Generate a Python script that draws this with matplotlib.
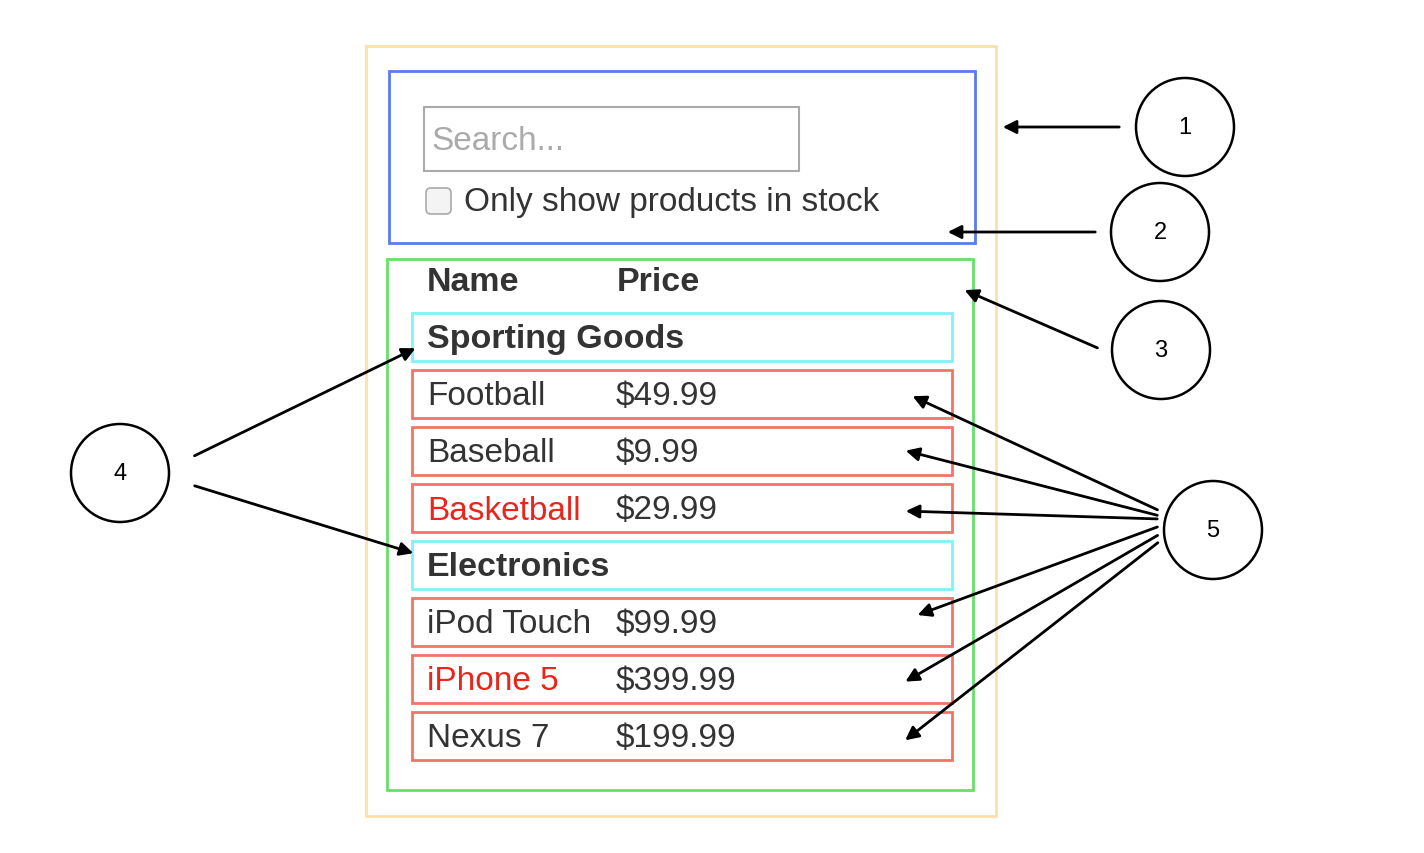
import matplotlib.pyplot as plt
from matplotlib.patches import Rectangle, Circle, FancyBboxPatch

plt.rcParams['font.family'] = ['Liberation Sans', 'DejaVu Sans']

# Table content
categories = ["Sporting Goods", "Electronics"]
names = [["Football", "Baseball", "Basketball"], ["iPod Touch", "iPhone 5", "Nexus 7"]]
prices = [["$49.99", "$9.99", "$29.99"], ["$99.99", "$399.99", "$199.99"]]
in_stock = [[True, True, False], [True, False, True]]
labels = ["1", "2", "3", "4", "5"]

fig = plt.figure(figsize=(14.24, 8.54), dpi=100)
ax = fig.add_axes([0, 0, 1, 1])
ax.set_xlim(0, 1424)
ax.set_ylim(854, 0)
ax.axis("off")

txt = "#333333"
fs = 24
fsb = 24.5


def box(x0, y0, x1, y1, color, lw=2):
    ax.add_patch(Rectangle((x0, y0), x1 - x0, y1 - y0, fill=False, edgecolor=color, lw=lw))


# outer containers
box(366, 47, 996, 817, "#FFDFA8")
box(389, 72, 975, 244, "#5A7BF0")
box(387, 260, 973, 791, "#66E06A")

# search bar
box(424, 108, 799, 172, "#AAAAAA", lw=1.5)
ax.text(431, 142, "Search...", fontsize=fs, color="#AAAAAA", va="center")
ax.add_patch(FancyBboxPatch((426, 189), 25, 26, boxstyle="round,pad=0,rounding_size=5",
                            facecolor="#F4F4F4", edgecolor="#AAAAAA", lw=1.2))
ax.text(464, 203, "Only show products in stock", fontsize=fs, color=txt, va="center")

# header
ax.text(427, 283, "Name", fontsize=fsb, color=txt, weight="bold", va="center")
ax.text(617, 283, "Price", fontsize=fsb, color=txt, weight="bold", va="center")

# rows
y = 314
for cat, nm, pr, st in zip(categories, names, prices, in_stock):
    box(412, y, 952, y + 48, "#7FF3F8")
    ax.text(427, y + 26, cat, fontsize=fsb, color=txt, weight="bold", va="center")
    y += 57
    for n, p, s in zip(nm, pr, st):
        box(412, y, 952, y + 48, "#F07468")
        ax.text(427, y + 26, n, fontsize=fs, color=txt if s else "#E8261C", va="center")
        ax.text(616, y + 26, p, fontsize=fs, color=txt, va="center")
        y += 57

# circles
centers = [(1185, 128), (1160, 233), (1161, 351), (120, 474), (1213, 531)]
for (cx, cy), lab in zip(centers, labels):
    ax.add_patch(Circle((cx, cy), 49, fill=False, edgecolor="black", lw=1.8))
    ax.text(cx, cy, lab, fontsize=17, ha="center", va="center")

# arrows
arrows = [
    ((1122, 128), (1000, 128)),
    ((1098, 233), (945, 233)),
    ((1100, 350), (962, 290)),
    ((192, 458), (418, 348)),
    ((192, 486), (416, 555)),
    ((1160, 512), (910, 396)),
    ((1160, 517), (903, 451)),
    ((1160, 520), (903, 512)),
    ((1160, 527), (915, 617)),
    ((1160, 535), (903, 684)),
    ((1160, 542), (903, 743)),
]
for start, end in arrows:
    ax.annotate("", xy=end, xytext=start,
                arrowprops=dict(arrowstyle="-|>", color="black", lw=2, mutation_scale=20))

fig.savefig("out.png", dpi=100)
